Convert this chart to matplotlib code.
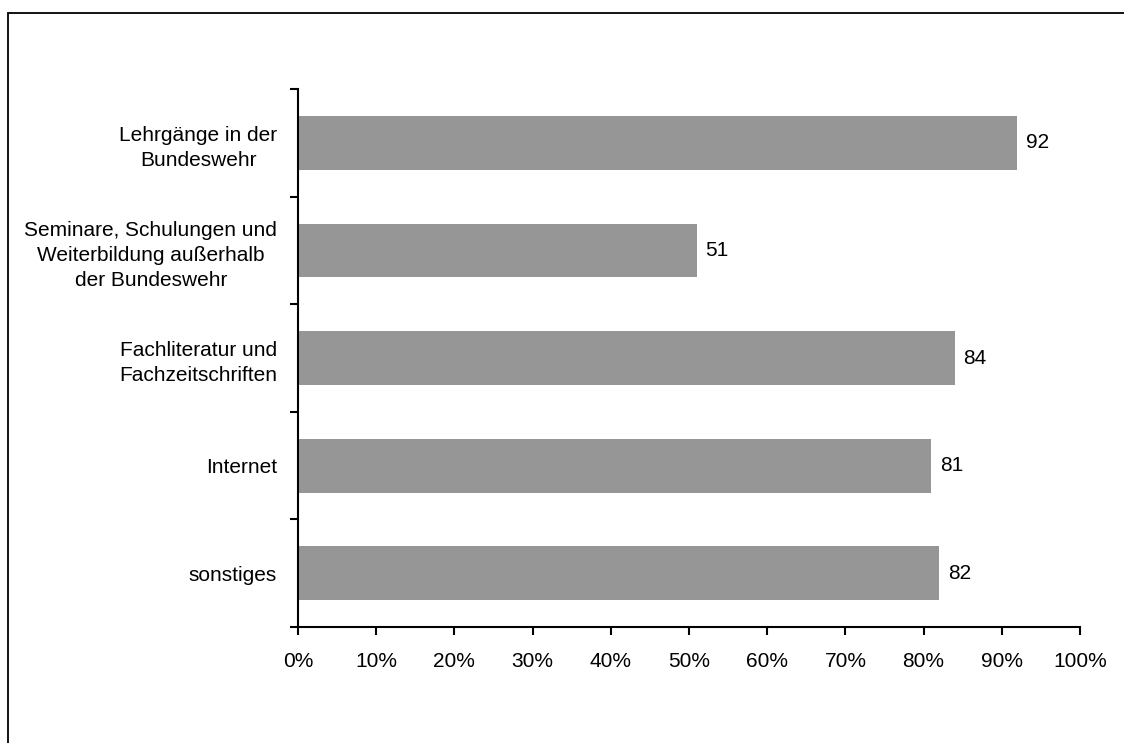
import matplotlib
matplotlib.use("Agg")
import matplotlib.pyplot as plt
from matplotlib.patches import Rectangle
from matplotlib.ticker import FixedLocator, PercentFormatter

plt.rcParams['font.family'] = ['Liberation Sans', 'DejaVu Sans']

categories = [
    "Lehrgänge in der\nBundeswehr",
    "Seminare, Schulungen und\nWeiterbildung außerhalb\nder Bundeswehr",
    "Fachliteratur und\nFachzeitschriften",
    "Internet",
    "sonstiges",
]
values = [92, 51, 84, 81, 82]
xticks = list(range(0, 101, 10))

FS = 15

fig = plt.figure(figsize=(11.24, 7.43), dpi=100)
fig.patches.append(Rectangle((8 / 1124, -0.1), 1.2, 1 - 13 / 743 + 0.1,
                             transform=fig.transFigure, fill=False,
                             edgecolor='black', linewidth=1.3, zorder=0))

ax = fig.add_axes([298 / 1124, 1 - 627 / 743, 782 / 1124, (627 - 89) / 743])
n = len(categories)
pos = list(range(n))
ax.barh(pos, values, height=0.5, color='#969696', edgecolor='none')
ax.set_ylim(n - 0.5, -0.5)
ax.set_xlim(0, 100)

ax.set_yticks(pos)
ax.set_yticklabels(categories, fontsize=FS, multialignment='center',
                   linespacing=1.4)
ax.yaxis.set_minor_locator(FixedLocator([p - 0.5 for p in pos] + [n - 0.5]))
ax.tick_params(axis='y', which='major', length=0, pad=15)
ax.tick_params(axis='y', which='minor', length=6, width=1.5, direction='out')

ax.set_xticks(xticks)
ax.xaxis.set_major_formatter(PercentFormatter(decimals=0))
ax.tick_params(axis='x', length=6, width=1.5, direction='out', labelsize=FS, pad=12)

for s in ['top', 'right']:
    ax.spines[s].set_visible(False)
for s in ['left', 'bottom']:
    ax.spines[s].set_linewidth(1.5)

for p, v in zip(pos, values):
    ax.text(v + 1.1, p, str(v), va='center', ha='left', fontsize=FS)

fig.savefig("out.png", dpi=100)
